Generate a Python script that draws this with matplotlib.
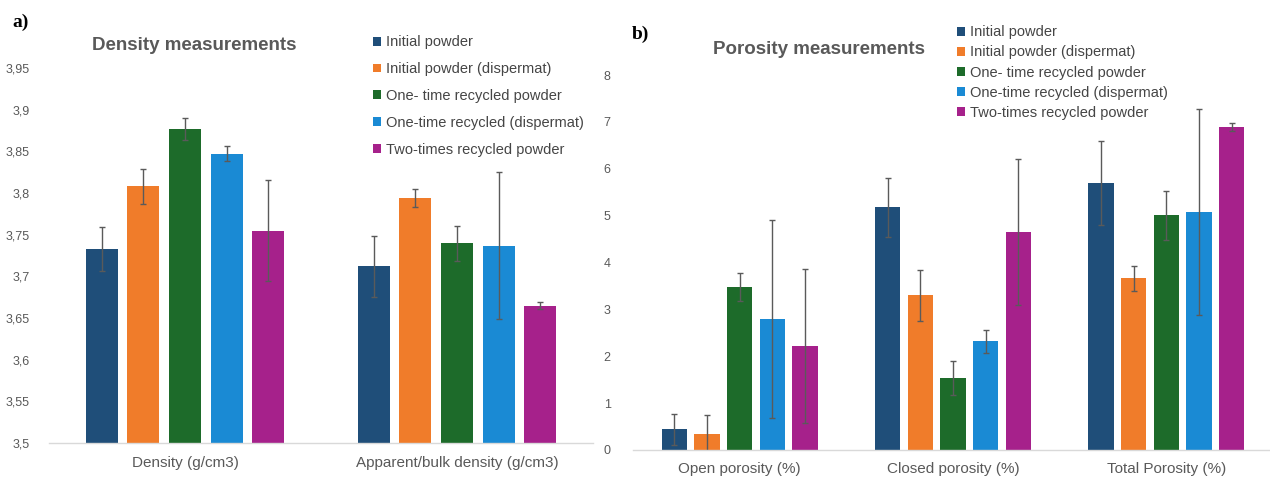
import numpy as np
import matplotlib
matplotlib.use("Agg")
import matplotlib.pyplot as plt
from matplotlib.patches import Patch

plt.rcParams['font.family'] = ['Liberation Sans', 'DejaVu Sans']

# series (same order in both panels)
series = ["Initial powder", "Initial powder (dispermat)", "One- time recycled powder",
          "One-time recycled (dispermat)", "Two-times recycled powder"]
colors = ["#1f4e79", "#f07c2a", "#1d6b2a", "#1a8ad4", "#a6218b"]

# a) density
density_cats = ["Density (g/cm3)", "Apparent/bulk density (g/cm3)"]
density_vals = [[3.733, 3.712],
                [3.808, 3.794],
                [3.877, 3.740],
                [3.847, 3.737],
                [3.755, 3.665]]
density_err = [[0.026, 0.037],
               [0.021, 0.011],
               [0.013, 0.021],
               [0.009, 0.088],
               [0.061, 0.004]]
density_ticks = [3.5, 3.55, 3.6, 3.65, 3.7, 3.75, 3.8, 3.85, 3.9, 3.95]
density_ticklabels = ["3,5", "3,55", "3,6", "3,65", "3,7", "3,75", "3,8", "3,85", "3,9", "3,95"]

# b) porosity
porosity_cats = ["Open porosity (%)", "Closed porosity (%)", "Total Porosity (%)"]
porosity_vals = [[0.44, 5.18, 5.70],
                 [0.34, 3.30, 3.66],
                 [3.48, 1.54, 5.01],
                 [2.79, 2.32, 5.08],
                 [2.22, 4.65, 6.89]]
porosity_err = [[0.33, 0.63, 0.90],
                [0.41, 0.54, 0.27],
                [0.30, 0.36, 0.52],
                [2.11, 0.24, 2.20],
                [1.65, 1.55, 0.09]]
porosity_ticks = [0, 1, 2, 3, 4, 5, 6, 7, 8]

txt = "#595959"
W, H = 1270, 482
fig = plt.figure(figsize=(W / 100, H / 100), dpi=100)


def draw_panel(ax, cats, vals, errs, ylim, ticks, ticklabels, tickpad):
    x = np.arange(len(cats))
    for i in range(len(series)):
        ax.bar(x + (i - 2) * 0.153, vals[i], width=0.118, color=colors[i],
               yerr=errs[i], error_kw=dict(ecolor="#5a5a5a", elinewidth=1.0,
                                           capsize=2, capthick=1.0),
               zorder=2)
    ax.set_xlim(-0.5, len(cats) - 0.5)
    ax.set_ylim(*ylim)
    ax.set_yticks(ticks)
    ax.set_yticklabels(ticklabels)
    ax.set_xticks(x)
    ax.set_xticklabels(cats, fontsize=11, color=txt)
    for s in ["top", "right", "left"]:
        ax.spines[s].set_visible(False)
    ax.spines["bottom"].set_color("#d9d9d9")
    ax.spines["bottom"].set_linewidth(1.0)
    ax.tick_params(axis="y", length=0, labelsize=9, labelcolor=txt, pad=tickpad)
    ax.tick_params(axis="x", length=0, pad=9)


ax1 = fig.add_axes([49 / W, 39 / H, 544 / W, 375 / H])
draw_panel(ax1, density_cats, density_vals, density_err, (3.5, 3.95),
           density_ticks, density_ticklabels, 14)

ax2 = fig.add_axes([633 / W, 32 / H, 640 / W, 375 / H])
draw_panel(ax2, porosity_cats, porosity_vals, porosity_err, (0, 8),
           porosity_ticks, [str(t) for t in porosity_ticks], 16)

handles = [Patch(facecolor=c, edgecolor="none") for c in colors]
fig.legend(handles, series, loc="upper left", bbox_to_anchor=(366 / W, 1 - 28 / H),
           frameon=False, fontsize=10.5, handlelength=0.55, handleheight=0.55,
           handletextpad=0.35, labelspacing=0.88, borderpad=0, labelcolor="#454545")
fig.legend(handles, series, loc="upper left", bbox_to_anchor=(950 / W, 1 - 18 / H),
           frameon=False, fontsize=10.5, handlelength=0.55, handleheight=0.55,
           handletextpad=0.35, labelspacing=0.42, borderpad=0, labelcolor="#454545")

fig.text(194 / W, 1 - 45 / H, "Density measurements", ha="center", va="center",
         fontsize=13.5, fontweight="bold", color=txt)
fig.text(819 / W, 1 - 50 / H, "Porosity measurements", ha="center", va="center",
         fontsize=13.5, fontweight="bold", color=txt)

fig.text(12 / W, 1 - 22 / H, "a)", ha="left", va="center", fontsize=14,
         fontweight="bold", family=["Liberation Serif", "DejaVu Serif"])
fig.text(632 / W, 1 - 34 / H, "b)", ha="left", va="center", fontsize=14,
         fontweight="bold", family=["Liberation Serif", "DejaVu Serif"])

fig.savefig("out.png", dpi=100)
